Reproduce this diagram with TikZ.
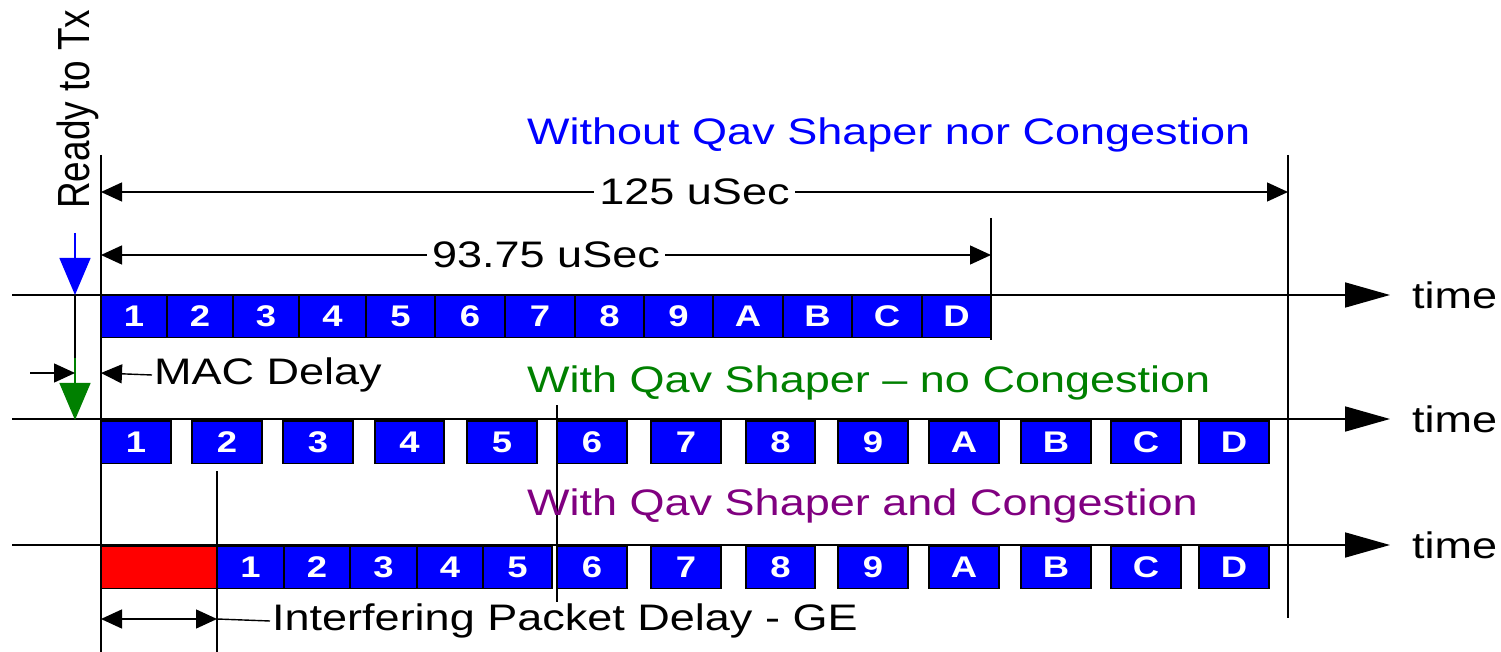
\documentclass[tikz,border=0pt]{standalone}
\usepackage{fontspec}
\setmainfont{Liberation Sans}[FakeStretch=1.22]
\newfontfamily\uprightsans{Liberation Sans}
\usetikzlibrary{arrows.meta, positioning}

\definecolor{qavgreen}{RGB}{0,128,0}
\definecolor{qavpurple}{RGB}{128,0,128}

\tikzset{
  lbl/.style={font=\fontsize{21}{24}\selectfont, inner sep=1pt},
  pkt/.style={draw=black, line width=0.7pt, fill=blue, text=white, anchor=north west,
    minimum height=8.5mm, inner sep=0pt, outer sep=0pt, font=\fontsize{17}{18}\selectfont\bfseries},
  axisline/.style={line width=1pt, -{Triangle[length=9mm, width=5mm]}},
  dimline/.style={line width=0.8pt, {Triangle[length=4.2mm, width=3.8mm]}-{Triangle[length=4.2mm, width=3.8mm]}},
  dimtip/.style={line width=0.8pt, -{Triangle[length=4.2mm, width=3.8mm]}},
  guide/.style={line width=1pt},
  ready/.style={line width=0.8pt, -{Triangle[length=7.4mm, width=6.2mm]}}
}

\begin{document}
\begin{tikzpicture}[x=0.2mm, y=-0.2mm]
        \useasboundingbox (0,0) rectangle (1501,652);

% Frames without shaper
        \foreach \l/\r/\n in {101/167/1,167/233/2,233/299/3,299/366/4,366/435/5,435/505/6,505/575/7,
                              575/644/8,644/713/9,713/783/A,783/852/B,852/922/C,922/991/D}
          \node[pkt, minimum width={(\r-\l)*0.2mm}] (a\n) at (\l,295) {\n};

% Frames with shaper
        \foreach \l/\r/\n in {101/171/1,192/262/2,283/353/3,375/444/4,467/537/5,557/627/6,651/721/7,
                              746/815/8,838/908/9,929/999/A,1021/1091/B,1111/1181/C,1199/1269/D}
          \node[pkt, minimum width={(\r-\l)*0.2mm}] (b\n) at (\l,421) {\n};

% Frames with shaper and congestion
        \node[pkt, fill=red, minimum width={116*0.2mm}] (ipkt) at (101,546) {};
        \foreach \l/\r/\n in {217/284/1,284/350/2,350/417/3,417/483/4,483/552/5,557/627/6,651/721/7,
                              746/815/8,838/908/9,929/999/A,1021/1091/B,1111/1181/C,1199/1269/D}
          \node[pkt, minimum width={(\r-\l)*0.2mm}] (c\n) at (\l,546) {\n};

% Time axes
        \foreach \y/\k in {295/1,419/2,545/3} {
          \coordinate (axs\k) at (12,\y);
          \coordinate (axe\k) at (1390,\y);
          \draw[axisline] (axs\k) -- (axe\k);
          \node[lbl, right=4mm of axe\k] (time\k) {time};
        }

% Guide lines
        \coordinate (g0t) at (101,155);   \coordinate (g0b) at (101,652);
        \coordinate (gEt) at (1288,155);  \coordinate (gEb) at (1288,618);
        \coordinate (g9t) at (991,218);   \coordinate (g9b) at (991,340);
        \coordinate (g6t) at (557,405);   \coordinate (g6b) at (557,602);
        \coordinate (gRt) at (217,471);   \coordinate (gRb) at (217,652);
        \foreach \g in {0,E,9,6,R}
          \draw[guide] (g\g t) -- (g\g b);

% Periods
        \coordinate (s125) at (101,192);
        \coordinate (e125) at (1288,192);
        \draw[dimline] (s125) -- node[lbl, fill=white, inner xsep=3pt] (t125) {125 uSec} (e125);
        \coordinate (s93) at (101,255);
        \coordinate (e93) at (991,255);
        \draw[dimline] (s93) -- node[lbl, fill=white, inner xsep=3pt] (t93) {93.75 uSec} (e93);

% Ready to transmit
        \node[xscale=1.22, rotate=90, anchor=base west, inner sep=0pt,
              font=\uprightsans\fontsize{21}{24}\selectfont] (rdy) at (89,209) {Ready to Tx};
        \coordinate (rdyTop) at (75,233);
        \coordinate (rdyTip) at (75,295);
        \coordinate (macTop) at (75,358);
        \coordinate (macTip) at (75,420);
        \draw[ready, blue] (rdyTop) -- (rdyTip);
        \draw[line width=0.8pt] (rdyTip) -- (macTop);
        \draw[ready, qavgreen] (macTop) -- (macTip);

% MAC delay
        \coordinate (macL) at (30,373);
        \coordinate (macA) at (75,373);
        \coordinate (macB) at (101,373);
        \node[lbl, anchor=west] (mac) at (152,375) {MAC Delay};
        \draw[dimtip] (macL) -- (macA);
        \draw[dimtip] (mac.west) -- (macB);

% Interfering packet
        \coordinate (igs) at (101,619);
        \coordinate (ige) at (217,619);
        \node[lbl, anchor=west] (igd) at (270,621) {Interfering Packet Delay - GE};
        \draw[dimline] (igs) -- (ige);
        \draw[line width=0.8pt] (ige) -- (igd.west);

% Titles
        \node[lbl, anchor=base west, text=blue] (ttl1) at (525,145) {Without Qav Shaper nor Congestion};
        \node[lbl, anchor=base west, text=qavgreen] (ttl2) at (525,392) {With Qav Shaper – no Congestion};
        \node[lbl, anchor=base west, text=qavpurple] (ttl3) at (525,515) {With Qav Shaper and Congestion};

      \end{tikzpicture}
\end{document}
